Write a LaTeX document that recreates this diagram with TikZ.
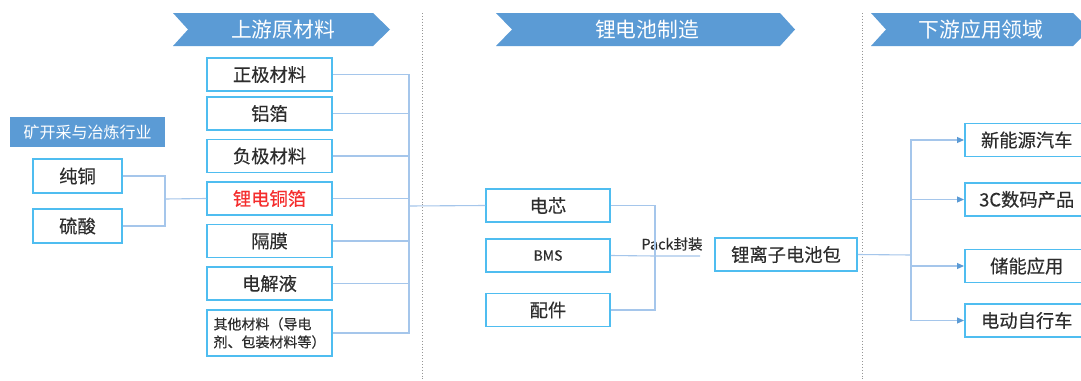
\documentclass[tikz,border=0pt]{standalone}
\usepackage{fontspec}
\newfontfamily\cjk{Noto Sans CJK SC}
\newfontfamily\cjkb[FakeBold=0.35]{Noto Sans CJK SC}
\usetikzlibrary{arrows.meta}
\definecolor{bannerc}{HTML}{5B9BD5}
\definecolor{boxc}{RGB}{79,189,240}
\definecolor{connc}{RGB}{165,198,235}
\definecolor{txt}{RGB}{45,45,45}
\definecolor{redt}{RGB}{245,45,45}
\definecolor{sepc}{RGB}{150,150,150}
\begin{document}
\begin{tikzpicture}[x=1pt,y=-1pt,
  every node/.style={font=\cjk},
  box/.style={draw=boxc, line width=1.5pt, fill=white, minimum width=125pt, minimum height=33pt,
    inner sep=0pt, text=txt, font=\cjkb\fontsize{18.3}{18.3}\selectfont},
  appbox/.style={box, minimum width=124pt},
  conn/.style={draw=connc, line width=1.1pt},
  arr/.style={conn, -{Triangle[length=7pt,width=6pt,fill=bannerc,color=bannerc]}},
  banner/.style={fill=bannerc, draw=none},
  bantext/.style={text=white, font=\cjk\fontsize{20.8}{20.8}\selectfont, inner sep=0pt},
  sep/.style={draw=sepc, line width=0.9pt, dotted}
]
\useasboundingbox (0,0) rectangle (1081,380);
\fill[white] (0,0) rectangle (1081,380);

% separators
\draw[sep] (422,13) -- (422,380);
\draw[sep] (862,13) -- (862,380);

% banners
\fill[banner] (173,13) -- (373,13) -- (390,29.5) -- (373,46) -- (173,46) -- (188,29.5) -- cycle;
\fill[banner] (496,13) -- (780,13) -- (795,29.5) -- (780,46) -- (496,46) -- (512,29.5) -- cycle;
\fill[banner] (871,13) -- (1073,13) -- (1090,29.5) -- (1073,46) -- (871,46) -- (886,29.5) -- cycle;
\node[bantext] (b1) at (283,30) {上游原材料};
\node[bantext] (b2) at (647,30) {锂电池制造};
\node[bantext] (b3) at (981,30) {下游应用领域};

% left header
\node[fill=bannerc, minimum width=155pt, minimum height=30pt, inner sep=0pt, text=white,
  font=\cjk\fontsize{16}{16}\selectfont] (hdr) at (87.5,132) {矿开采与冶炼行业};

% left boxes
\node[box, minimum width=89pt, minimum height=34pt] (cu) at (77.5,176) {纯铜};
\node[box, minimum width=89pt, minimum height=34pt] (acid) at (77.5,226) {硫酸};

% materials
\node[box] (m1) at (269.5,74.5) {正极材料};
\node[box] (m2) at (269.5,113.5) {铝箔};
\node[box] (m3) at (269.5,156) {负极材料};
\node[box, text=redt] (m4) at (269.5,198.5) {锂电铜箔};
\node[box] (m5) at (269.5,241) {隔膜};
\node[box] (m6) at (269.5,283.5) {电解液};
\node[box, minimum height=46pt, align=left, font=\cjkb\fontsize{14}{18}\selectfont] (m7) at (269.5,333) {其他材料（导电\\剂、包装材料等）};

% cell level
\node[box, minimum width=124pt] (cell) at (548,205.5) {电芯};
\node[box, minimum width=124pt, font=\cjkb\fontsize{14}{14}\selectfont] (bms) at (548,255.5) {BMS};
\node[box, minimum width=124pt] (parts) at (548,310) {配件};
\node[box, minimum width=142pt] (pack) at (786,254.5) {锂离子电池包};
\node[text=txt, font=\cjkb\fontsize{14.5}{14.5}\selectfont, inner sep=0pt] (packlbl) at (672,244) {Pack封装};

% applications
\node[appbox, anchor=west] (a1) at (964,140) {新能源汽车};
\node[appbox, anchor=west] (a2) at (964,199.5) {3C数码产品};
\node[appbox, anchor=west] (a3) at (964,266) {储能应用};
\node[appbox, anchor=west] (a4) at (964,320.5) {电动自行车};

% connectors: left
\coordinate (j1) at (165,199);
\draw[conn] (cu.east) -| (j1) |- (acid.east);
\draw[conn] (j1) -- (m4.west);

% materials bus
\coordinate (j2) at (409,206);
\foreach \m in {m1,m2,m3,m4,m5,m6,m7}{\draw[conn] (\m.east) -| (j2);}
\draw[conn] (j2) -- (cell.west);

% pack bus
\coordinate (j3) at (655,256);
\coordinate (p1) at (700,256);
\draw[conn] (cell.east) -| (j3);
\draw[conn] (parts.east) -| (j3);
\draw[conn] (bms.east) -- (j3) -- (p1);

% applications bus
\coordinate (j4) at (911,255);
\draw[conn] (pack.east) -- (j4);
\foreach \a in {a1,a2,a3,a4}{\draw[arr] (j4) |- (\a.west);}
\end{tikzpicture}
\end{document}
